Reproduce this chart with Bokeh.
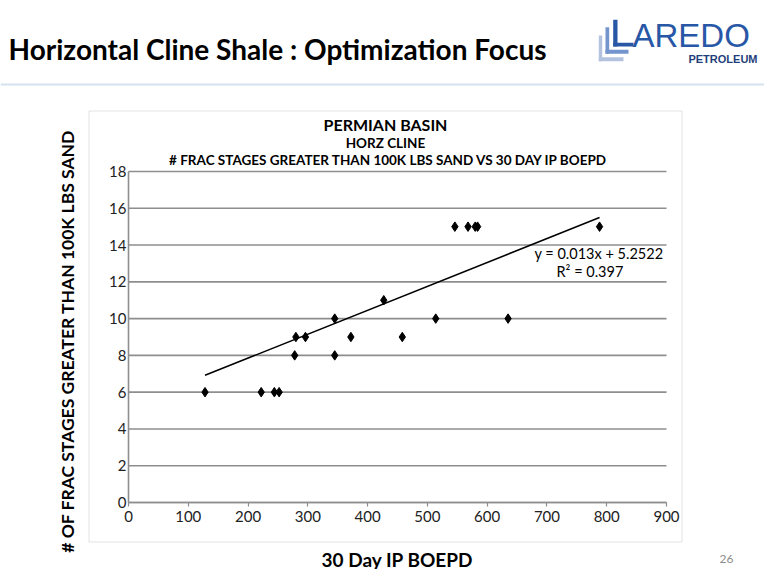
from bokeh.plotting import figure
from bokeh.models import Range1d, Label, BoxAnnotation, ColumnDataSource, FixedTicker
from bokeh.embed import file_html
from bokeh.resources import INLINE

# ---- data ----
ip_boepd = [128, 222, 244, 252, 278, 280, 296, 345, 345, 372, 427, 458, 514, 635, 546, 568, 580, 584, 788]
frac_stages = [6, 6, 6, 6, 8, 9, 9, 10, 8, 9, 11, 9, 10, 10, 15, 15, 15, 15, 15]
trend_slope = 0.013
trend_intercept = 5.2522
r_squared = 0.397
x_ticks = [0, 100, 200, 300, 400, 500, 600, 700, 800, 900]
y_ticks = [0, 2, 4, 6, 8, 10, 12, 14, 16, 18]

FONT = "Lato"
W, H = 764, 569
# data area in canvas pixels
FL, FR, FT, FB = 128, 666, 171, 502
X0, X1, Y0, Y1 = 0, 900, 0, 18

def px(cx):
    return X0 + (cx - FL) * (X1 - X0) / (FR - FL)

def py(cy):
    return Y0 + (FB - cy) * (Y1 - Y0) / (FB - FT)

p = figure(width=W, height=H, x_range=Range1d(px(0), px(W)), y_range=Range1d(py(H), py(0)),
           output_backend="svg", toolbar_location=None, title=None,
           min_border=0)
p.outline_line_color = None
p.background_fill_color = "white"
p.border_fill_color = "white"
p.xgrid.visible = False
p.ygrid.visible = False

# gridlines limited to the data area
p.segment(x0=[x_ticks[0]] * len(y_ticks), x1=[x_ticks[-1]] * len(y_ticks), y0=y_ticks, y1=y_ticks,
          line_color="#8E8E8E", line_width=1.6, level="underlay")

# axes at fixed locations
p.xaxis.ticker = FixedTicker(ticks=x_ticks)
p.yaxis.ticker = FixedTicker(ticks=y_ticks)
p.xaxis.fixed_location = y_ticks[0]
p.yaxis.fixed_location = x_ticks[0]
p.xaxis.bounds = (x_ticks[0], x_ticks[-1])
p.yaxis.bounds = (y_ticks[0], y_ticks[-1])
for ax in (p.xaxis[0], p.yaxis[0]):
    ax.axis_line_color = "#8E8E8E"
    ax.axis_line_width = 1.6
    ax.major_tick_line_color = "#8E8E8E"
    ax.major_tick_line_width = 1.2
    ax.minor_tick_line_color = None
    ax.major_tick_in = 0
    ax.major_label_text_font = FONT
    ax.major_label_text_font_size = "15px"
    ax.major_label_text_color = "#222222"
    ax.axis_label_text_font = FONT
    ax.axis_label_text_font_style = "bold"
    ax.axis_label_text_color = "black"
p.xaxis.major_tick_out = 4
p.xaxis.major_label_standoff = 4
p.xaxis.axis_label = "30 Day IP BOEPD"
p.xaxis.axis_label_text_font_size = "19px"
p.xaxis.axis_label_standoff = 23
p.yaxis.major_tick_out = 0
p.yaxis.major_label_standoff = 2
p.yaxis.axis_label = "# OF FRAC  STAGES  GREATER THAN 100K LBS SAND"
p.yaxis.axis_label_text_font_size = "17.5px"
p.yaxis.axis_label_standoff = 28

# data
src = ColumnDataSource(dict(x=ip_boepd, y=frac_stages))
p.scatter("x", "y", source=src, marker="diamond", size=9.5, fill_color="black", line_color="black")

tx = [min(ip_boepd), max(ip_boepd)]
ty = [trend_slope * v + trend_intercept for v in tx]
p.line(tx, ty, line_color="black", line_width=1.5)

def lab(text, x, y, size, bold=False, align="left", base="middle", color="black", font=FONT):
    p.add_layout(Label(x=px(x), y=py(y), text=text, text_font=font, text_font_size=size,
                       text_font_style="bold" if bold else "normal", text_align=align,
                       text_baseline=base, text_color=color))

lab(f"y = {trend_slope}x + {trend_intercept}", 534, 253, "14.5px")
lab(f"R² = {r_squared}", 556, 271, "14.5px")

# chart box
p.add_layout(BoxAnnotation(left=px(88.5), right=px(681.5), top=py(110.5), bottom=py(541.5),
                           fill_color=None, line_color="#A0A0A0", line_width=1, level="underlay"))

# chart titles
lab("PERMIAN BASIN", 385, 124, "16px", bold=True, align="center")
lab("HORZ CLINE", 385, 142, "13.5px", bold=True, align="center")
lab("# FRAC STAGES GREATER THAN 100K LBS SAND VS 30 DAY IP BOEPD", 388, 159, "13.5px", bold=True, align="center")

# slide header
lab("Horizontal Cline Shale : Optimization Focus", 8, 48, "28px", bold=True)
p.add_layout(BoxAnnotation(left=px(0), right=px(W), top=py(83), bottom=py(85),
                           fill_color="#95B3D7", line_color=None))
# logo
for (l, r, t, b, c) in [
    (598.3, 601.7, 35, 60.7, "#B3C3DF"), (598.3, 623, 56.7, 60.7, "#B3C3DF"),
    (605, 608.7, 26.7, 53.3, "#7394CC"), (605, 628, 49.3, 53.3, "#7394CC"),
    (612.7, 617, 19.3, 46, "#2857A6"), (612.7, 633, 42.3, 46, "#2857A6")]:
    p.add_layout(BoxAnnotation(left=px(l), right=px(r), top=py(t), bottom=py(b),
                               fill_color=c, fill_alpha=1, line_color=None))
lab("AREDO", 632, 34.5, "33px", font="Liberation Sans", color="#2857A6")
lab("PETROLEUM", 757, 58.5, "11px", bold=True, font="Liberation Sans", align="right", color="#1F3F7C")
lab("26", 719, 558, "12px", color="#8C8C8C")

open("out.html", "w").write(file_html(p, INLINE))
